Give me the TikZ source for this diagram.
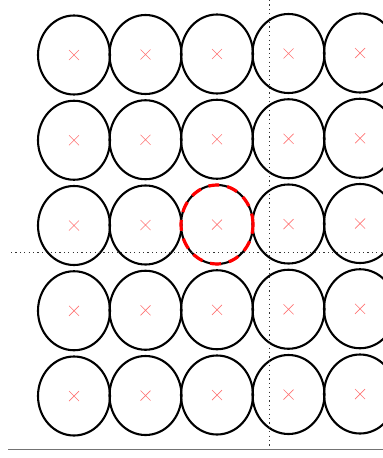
\documentclass[tikz,border=0pt]{standalone}
\usetikzlibrary{shapes.geometric}
\begin{document}
\begin{tikzpicture}[x=1pt,y=-1pt,
  cell/.style={draw=black,line width=2.1pt,ellipse,minimum width=72pt,minimum height=79pt,inner sep=0pt},
  redcell/.style={draw=red,line width=3.2pt,ellipse,minimum width=72pt,minimum height=79pt,inner sep=0pt,dash pattern=on 11pt off 8pt},
  crossmark/.style={draw=red,opacity=0.55,line width=0.7pt},
  guide/.style={draw=black!80,line width=0.6pt,dash pattern=on 1.2pt off 3.2pt},
  baseline/.style={draw=black!55,line width=1pt}]
\useasboundingbox (0,0) rectangle (383,458);
\foreach \i in {1,...,5}{
  \foreach \j in {1,...,5}{
    \pgfmathsetmacro{\cx}{74+71.5*(\i-1)}
    \pgfmathsetmacro{\cy}{55+85.25*(\j-1)-0.5*(\i-1)}
    \node[cell] (e\i\j) at (\cx,\cy) {};
    \draw[crossmark] ([shift={(-5,-5)}]e\i\j.center) -- ([shift={(5,5)}]e\i\j.center)
                     ([shift={(-5,5)}]e\i\j.center) -- ([shift={(5,-5)}]e\i\j.center);
  }
}
\node[redcell] (sel) at (e33.center) {};
\coordinate (hl) at (11,252);
\coordinate (hr) at (383,252);
\coordinate (vt) at (269,0);
\coordinate (vb) at (269,449);
\coordinate (bl) at (8,449);
\coordinate (br) at (383,449);
\draw[guide] (hl) -- (hr);
\draw[guide] (vt) -- (vb);
\draw[baseline] (bl) -- (br);
\end{tikzpicture}
\end{document}
